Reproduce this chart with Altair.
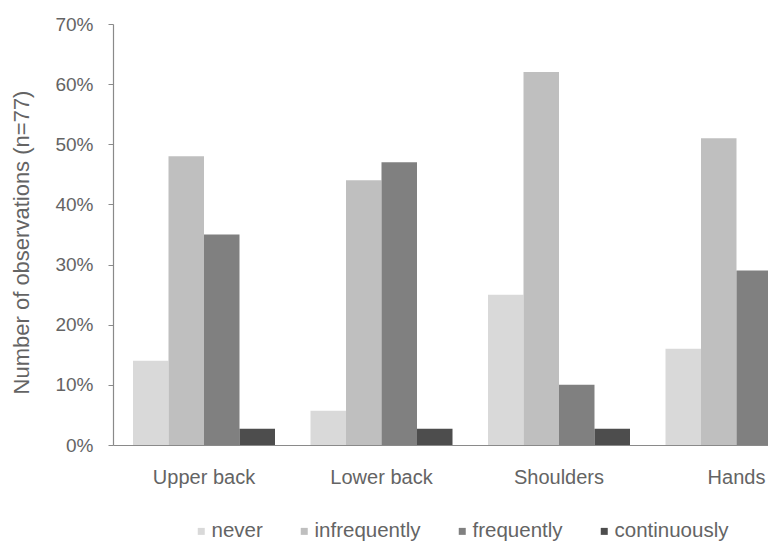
import altair as alt
import pandas as pd

# Body regions and exposure frequency classes
regions = ["Upper back", "Lower back", "Shoulders", "Hands"]
levels = ["never", "infrequently", "frequently", "continuously"]

# Share of observations (%) per region, one list per frequency class
never = [14, 5.7, 25, 16]
infrequently = [48, 44, 62, 51]
frequently = [35, 47, 10, 29]
continuously = [2.7, 2.7, 2.7]  # Hands bar falls beyond the right edge

colors = ["#d9d9d9", "#bfbfbf", "#808080", "#4d4d4d"]
y_ticks = [0, 10, 20, 30, 40, 50, 60, 70]

rows = []
for level, vals in zip(levels, [never, infrequently, frequently, continuously]):
    for region, v in zip(regions, vals):
        rows.append({"region": region, "level": level, "share": v})
df = pd.DataFrame(rows)

FONT = "Liberation Sans"
TEXT = "#646464"
LINE = "#8a8a8a"

chart = (
    alt.Chart(df)
    .mark_bar(clip=True)
    .encode(
        x=alt.X(
            "region:N",
            sort=regions,
            scale=alt.Scale(domain=regions, range=[0, 714.5], paddingInner=0.2, paddingOuter=0.1127),
            axis=alt.Axis(
                title=None, labelAngle=0, ticks=False, labelFontSize=20,
                labelPadding=22, labelColor=TEXT, labelFont=FONT,
                domainColor=LINE, domainWidth=1.2,
            ),
        ),
        xOffset=alt.XOffset("level:N", sort=levels, scale=alt.Scale(domain=levels)),
        y=alt.Y(
            "share:Q",
            scale=alt.Scale(domain=[0, 70]),
            axis=alt.Axis(
                title="Number of observations (n=77)",
                values=y_ticks, labelExpr="datum.value + '%'",
                grid=False, tickSize=5, tickColor=LINE, domainColor=LINE,
                domainWidth=1.2, labelFontSize=19, labelPadding=15,
                labelColor=TEXT, labelFont=FONT,
                titleFont=FONT, titleFontSize=22, titleFontWeight="normal",
                titleColor=TEXT, titleX=-80, titleY=218, titleBaseline="bottom",
                titleAlign="center",
            ),
        ),
        color=alt.Color(
            "level:N",
            sort=levels,
            scale=alt.Scale(domain=levels, range=colors),
            legend=alt.Legend(
                title=None, orient="none", direction="horizontal",
                legendX=78, legendY=497, symbolType="square", symbolSize=49,
                symbolStrokeWidth=0, labelFontSize=20.5, labelColor=TEXT,
                labelFont=FONT, labelOffset=0, columnPadding=31,
            ),
        ),
    )
    .properties(
        width=655,
        height=421,
        background="white",
        autosize=alt.AutoSizeParams(type="none"),
        padding={"left": 113, "top": 24, "right": 0, "bottom": 96},
    )
    .configure_view(stroke="transparent", strokeWidth=0)
)

chart.save("out.html", embed_options={"renderer": "svg", "actions": False})
